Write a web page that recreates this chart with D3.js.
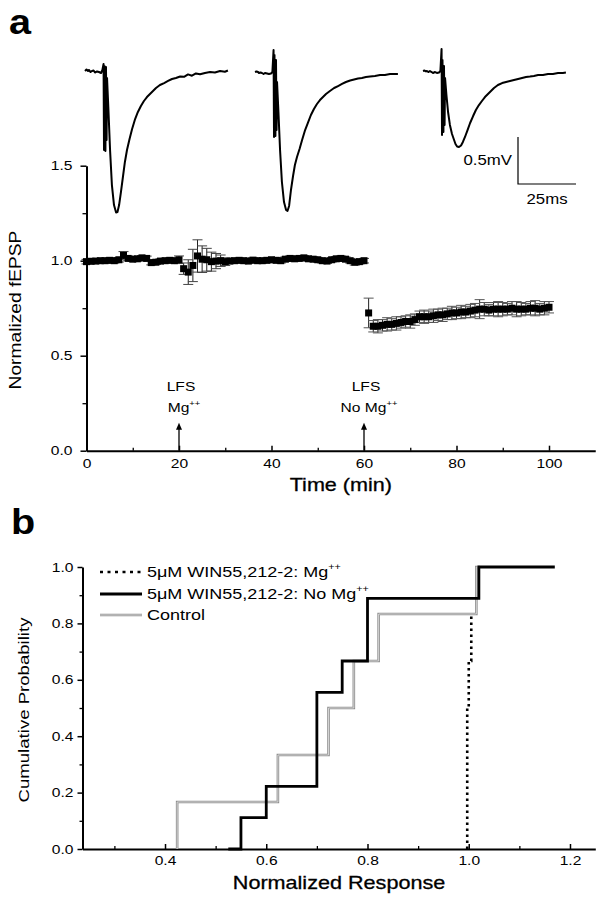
<!DOCTYPE html>
<html><head><meta charset="utf-8">
<script src="https://cdn.jsdelivr.net/npm/d3@7"></script>
<style>
body{margin:0;background:#fff;}
svg text{font-family:"Liberation Sans",Arial,Helvetica,sans-serif;fill:#000;}
</style></head><body>
<svg id="c" width="602" height="900"></svg>
<script>
// ================= DATA =================
// Panel a – example fEPSP traces (time in ms, voltage in mV)
const traceTime = [0,0.65,1.3,1.7,2.4,3.0,3.7,4.3,5.2,6.0,6.9,7.5,
  8.0,8.2,8.4,8.8,9.05,9.3,9.5,
  10.1,10.8,11.6,12.5,13.4,14.0,14.7,15.5,16.4,17.2,18.1,19.2,20.3,21.6,22.8,24.1,25.4,26.7,28.0,29.3,
  30.6,32.3,34.1,35.8,37.5,39.2,41.0,42.7,44.4,46.1,47.8,49.6,51.7,53.9,56.0,58.2,60.3,61.6];
const trace1 = [0,0.016,0,0.011,-0.011,0,0.005,-0.016,-0.005,-0.011,-0.021,0.011,
  0.074,-0.84,0.053,-0.851,0.043,-0.734,-0.074,
  -0.415,-0.84,-1.213,-1.426,-1.505,-1.5,-1.426,-1.287,-1.117,-0.968,-0.84,-0.723,-0.617,-0.511,-0.436,-0.372,-0.319,-0.277,-0.245,-0.213,
  -0.181,-0.149,-0.128,-0.106,-0.085,-0.074,-0.058,-0.062,-0.036,-0.05,-0.026,-0.035,-0.021,-0.011,-0.016,0,-0.008,0.005];
const trace2 = [-0.011,-0.005,-0.011,-0.021,-0.016,-0.021,-0.032,-0.021,-0.027,-0.032,-0.027,-0.011,
  0.223,-0.702,0.17,-0.691,0.117,-0.628,-0.117,
  -0.436,-0.84,-1.181,-1.394,-1.479,-1.489,-1.436,-1.266,-1.117,-1.0,-0.915,-0.83,-0.734,-0.628,-0.553,-0.468,-0.404,-0.351,-0.309,-0.277,
  -0.245,-0.213,-0.181,-0.16,-0.138,-0.117,-0.101,-0.09,-0.08,-0.074,-0.064,-0.059,-0.053,-0.043,-0.043,-0.032,-0.032,-0.032];
const trace3 = [0,0.005,-0.005,0,-0.011,0,-0.011,-0.021,-0.011,-0.021,-0.016,0,
  0.234,-0.681,0.117,-0.649,0.053,-0.574,-0.074,
  -0.255,-0.436,-0.574,-0.67,-0.734,-0.777,-0.803,-0.809,-0.793,-0.755,-0.702,-0.628,-0.553,-0.479,-0.415,-0.362,-0.319,-0.277,-0.245,-0.213,
  -0.181,-0.149,-0.128,-0.117,-0.106,-0.096,-0.085,-0.074,-0.064,-0.059,-0.053,-0.043,-0.043,-0.032,-0.032,-0.021,-0.021,-0.016];

// Panel a – normalized fEPSP time course (min)
const timeMg = [0,1,2,3,4,5,6,7,8,9,10,11,12,13,14,15,16,17,18,19,20,21,22,23,24,25,26,27,28,29,30,
  31,32,33,34,35,36,37,38,39,40,41,42,43,44,45,46,47,48,49,50,51,52,53,54,55,56,57,58,59,60];
const fepspMg = [0.995,0.997,0.998,1.0,1.0,1.002,1.0,1.005,1.028,1.012,1.008,1.01,1.015,1.012,0.99,0.992,0.998,1.0,1.002,1.0,1.005,
  0.958,0.94,0.975,1.025,1.008,1.005,0.995,0.998,1.0,0.995,
  0.998,1.0,1.002,1.0,0.998,1.003,1.0,1.0,1.002,1.005,1.002,1.0,1.008,1.012,1.01,1.012,1.015,1.01,1.008,1.005,
  1.0,0.998,1.005,1.01,1.012,1.008,1.0,0.992,0.995,1.0];
const errMg = [0.012,0.012,0.012,0.012,0.012,0.012,0.012,0.012,0.02,0.012,0.012,0.012,0.012,0.012,0.012,0.012,0.012,0.012,0.012,0.012,0.02,
  0.03,0.065,0.085,0.085,0.07,0.06,0.05,0.04,0.03,0.02,
  0.012,0.012,0.012,0.012,0.012,0.012,0.012,0.012,0.012,0.012,0.012,0.012,0.012,0.012,0.012,0.012,0.012,0.012,0.012,0.012,
  0.012,0.012,0.012,0.012,0.012,0.012,0.012,0.015,0.012,0.012];
const timeNoMg = [61,62,63,64,65,66,67,68,69,70,71,72,73,74,75,76,77,78,79,80,
  81,82,83,84,85,86,87,88,89,90,91,92,93,94,95,96,97,98,99,100];
const fepspNoMg = [0.725,0.655,0.655,0.66,0.665,0.665,0.67,0.675,0.68,0.68,0.69,0.705,0.705,0.705,0.71,0.715,0.715,0.72,0.725,0.725,
  0.73,0.73,0.735,0.74,0.745,0.745,0.74,0.745,0.745,0.745,0.745,0.75,0.745,0.745,0.745,0.75,0.75,0.745,0.75,0.755];
const errNoMg = [0.078,0.03,0.035,0.03,0.035,0.03,0.035,0.03,0.03,0.035,0.03,0.03,0.035,0.03,0.035,0.03,0.035,0.03,0.035,0.03,
  0.035,0.03,0.035,0.035,0.05,0.035,0.03,0.035,0.04,0.035,0.03,0.035,0.04,0.035,0.03,0.035,0.04,0.03,0.035,0.03];
const xTicksA = [0,20,40,60,80,100];
const yTicksA = [0,0.5,1.0,1.5];
const lfsTimes = [20,60];
const lfsLabels = ["Mg", "No Mg"];

// Panel b – cumulative probability of normalized responses
const respMg = [0.997,0.997,0.997,1.0,1.005,1.015];
const respNoMg = [0.55,0.60,0.70,0.70,0.70,0.75,0.80,0.80,1.02];
const respControl = [0.424,0.623,0.723,0.773,0.822,1.015];
const startNoMg = 0.525, endNoMg = 1.17;
const xTicksB = [0.4,0.6,0.8,1.0,1.2];
const yTicksB = [0,0.2,0.4,0.6,0.8,1.0];
const legendNames = ["5\u03bcM WIN55,212-2:  Mg", "5\u03bcM WIN55,212-2: No Mg", "Control"];

// ================= DRAWING =================
const svg = d3.select('#c');
const K = 1.2; // horizontal text stretch of the original figure

function label(x, y, str, o = {}) {
  const size = o.size || 13;
  const g = svg.append('g').attr('transform',
    `translate(${x},${y})` + (o.rot ? ` rotate(${o.rot})` : '') + ` scale(${o.k || K},1)`);
  const t = g.append('text').attr('text-anchor', o.anchor || 'start')
    .attr('font-size', size).attr('font-weight', o.weight || 'normal');
  t.append('tspan').text(str);
  if (o.sup) t.append('tspan').attr('font-size', size * 0.6).attr('dy', -size * 0.45).text(o.sup);
  if (o.stroke) t.attr('stroke', '#000').attr('stroke-width', o.stroke);
  return t;
}
function styleAxis(g, left) {
  g.attr('font-family', null).attr('font-size', null);
  g.select('.domain').attr('stroke-width', 2);
  g.selectAll('.tick line').attr('stroke-width', 1.5);
  g.selectAll('.tick text').attr('font-size', 13).each(function () {
    const s = d3.select(this);
    if (left) s.attr('x', (+s.attr('x')) / K);
    s.attr('transform', `scale(${K},1)`);
  });
}

// ---------- Panel a ----------
label(9, 34, 'a', {size: 36, weight: 'bold', k: 1.1});

const xA = d3.scaleLinear().domain([0, 110]).range([86.5, 595.25]);
const yA = d3.scaleLinear().domain([0, 1.5]).range([450.7, 165.7]);

// traces
const yT = d3.scaleLinear().domain([-1.5, 0]).range([212, 71]);
const traceStarts = [85, 255, 423];
[trace1, trace2, trace3].forEach((tr, i) => {
  const xT = d3.scaleLinear().domain([0, 25]).range([traceStarts[i], traceStarts[i] + 58]);
  svg.append('path')
    .attr('d', d3.line().x((d, j) => xT(traceTime[j])).y(d => yT(d))(tr))
    .attr('fill', 'none').attr('stroke', '#000').attr('stroke-width', 2).attr('stroke-linejoin', 'round');
});
// scale bar 0.5 mV / 25 ms
{
  const xS = d3.scaleLinear().domain([0, 25]).range([518, 576]);
  const y0 = 184;
  const h = yT(-0.5) - yT(0);
  svg.append('path').attr('d', `M${xS(0)},${y0 - h}V${y0}H${xS(25)}`)
    .attr('fill', 'none').attr('stroke', '#000').attr('stroke-width', 1.2);
  label(xS(0) - 6, 165, '0.5mV', {size: 14, anchor: 'end'});
  label(xS(12.5), 204, '25ms', {size: 14, anchor: 'middle'});
}

// axes a
const gyA = svg.append('g').attr('transform', `translate(${xA(0)},0)`)
  .call(d3.axisLeft(yA).tickValues(yTicksA).tickFormat(d3.format('.1f')).tickSizeInner(6).tickSizeOuter(0).tickPadding(8));
styleAxis(gyA, true);
const gyAm = svg.append('g').attr('transform', `translate(${xA(0)},0)`)
  .call(d3.axisLeft(yA).tickValues([0.25, 0.75, 1.25]).tickFormat('').tickSize(4));
gyAm.select('.domain').remove(); gyAm.selectAll('.tick line').attr('stroke-width', 1.3);

const gxA = svg.append('g').attr('transform', `translate(0,${yA(0)})`)
  .call(d3.axisBottom(xA).tickValues(xTicksA).tickSizeInner(-5).tickSizeOuter(0).tickPadding(8));
styleAxis(gxA, false);
const gxAm = svg.append('g').attr('transform', `translate(0,${yA(0)})`)
  .call(d3.axisBottom(xA).tickValues([10, 30, 50, 70, 90]).tickFormat('').tickSize(-3));
gxAm.select('.domain').remove(); gxAm.selectAll('.tick line').attr('stroke-width', 1.3);

label(xA(55), 491, 'Time (min)', {size: 18, anchor: 'middle', stroke: 0.3});
label(21, 310, 'Normalized fEPSP', {size: 16, anchor: 'middle', rot: -90});

// error bars + squares
function drawSeries(times, vals, errs, capColor) {
  const g = svg.append('g');
  const pts = times.map((t, i) => ({t, v: vals[i], e: errs[i]}));
  g.selectAll('line.eb').data(pts).join('line')
    .attr('x1', d => xA(d.t)).attr('x2', d => xA(d.t))
    .attr('y1', d => yA(d.v - d.e)).attr('y2', d => yA(d.v + d.e))
    .attr('stroke', '#222').attr('stroke-width', 1);
  ['+', '-'].forEach(sgn => {
    g.selectAll('line.cap' + (sgn === '+' ? 'u' : 'd')).data(pts).join('line')
      .attr('x1', d => xA(d.t) - 5).attr('x2', d => xA(d.t) + 5)
      .attr('y1', d => yA(sgn === '+' ? d.v + d.e : d.v - d.e))
      .attr('y2', d => yA(sgn === '+' ? d.v + d.e : d.v - d.e))
      .attr('stroke', capColor).attr('stroke-width', 1);
  });
  g.selectAll('rect').data(pts).join('rect')
    .attr('x', d => xA(d.t) - 3.5).attr('y', d => yA(d.v) - 3.5)
    .attr('width', 7).attr('height', 7).attr('fill', '#000');
}
drawSeries(timeMg, fepspMg, errMg, '#444');
drawSeries(timeNoMg, fepspNoMg, errNoMg, '#555');

// LFS arrows
lfsTimes.forEach((t, i) => {
  const x = xA(t);
  const yTop = yA(0.147);
  svg.append('line').attr('x1', x).attr('x2', x).attr('y1', yA(0)).attr('y2', yTop + 5)
    .attr('stroke', '#000').attr('stroke-width', 1.3);
  svg.append('path').attr('d', `M${x},${yTop}L${x - 3},${yTop + 7}L${x + 3},${yTop + 7}Z`).attr('fill', '#000');
  label(x + 2, 391, 'LFS', {size: 13, anchor: 'middle'});
  label(x + 5, 412, lfsLabels[i], {size: 13, anchor: 'middle', sup: '++'});
});

// ---------- Panel b ----------
label(11, 534, 'b', {size: 36, weight: 'bold', k: 1.1});

const xB = d3.scaleLinear().domain([0.237, 1.25]).range([82.5, 595.3]);
const yB = d3.scaleLinear().domain([0, 1]).range([849, 567]);

const gyB = svg.append('g').attr('transform', `translate(${xB.range()[0]},0)`)
  .call(d3.axisLeft(yB).tickValues(yTicksB).tickFormat(d3.format('.1f')).tickSizeInner(5).tickSizeOuter(0).tickPadding(4));
styleAxis(gyB, true);
const gyBm = svg.append('g').attr('transform', `translate(${xB.range()[0]},0)`)
  .call(d3.axisLeft(yB).tickValues([0.1, 0.3, 0.5, 0.7, 0.9]).tickFormat('').tickSize(3));
gyBm.select('.domain').remove(); gyBm.selectAll('.tick line').attr('stroke-width', 1.3);

const gxB = svg.append('g').attr('transform', `translate(0,${yB(0)})`)
  .call(d3.axisBottom(xB).tickValues(xTicksB).tickFormat(d3.format('.1f')).tickSizeInner(-5).tickSizeOuter(0).tickPadding(7));
styleAxis(gxB, false);
const gxBm = svg.append('g').attr('transform', `translate(0,${yB(0)})`)
  .call(d3.axisBottom(xB).tickValues([0.3, 0.5, 0.7, 0.9, 1.1]).tickFormat('').tickSize(-3));
gxBm.select('.domain').remove(); gxBm.selectAll('.tick line').attr('stroke-width', 1.3);

label(339, 889, 'Normalized Response', {size: 18, anchor: 'middle', stroke: 0.3});
label(29, 710, 'Cumulative Probability', {size: 15.5, anchor: 'middle', rot: -90});

// ECDF step points
function ecdf(vals, start, end) {
  const s = vals.slice().sort(d3.ascending);
  const uniq = Array.from(new Set(s));
  const pts = [];
  if (start != null) pts.push([start, 0]);
  uniq.forEach(u => pts.push([u, s.filter(v => v <= u).length / s.length]));
  if (end != null) pts.push([end, 1]);
  return pts;
}
const stepLine = d3.line().x(d => xB(d[0])).y(d => yB(d[1])).curve(d3.curveStepAfter);
function withBase(pts) { return [[pts[0][0], 0]].concat(pts); }

const ctrlPts = withBase(ecdf(respControl, null, 1.022));
svg.append('path').attr('d', stepLine(ctrlPts)).attr('fill', 'none')
  .attr('stroke', '#8f8f8f').attr('stroke-width', 2.6);
svg.append('path').attr('d', stepLine(ctrlPts)).attr('fill', 'none')
  .attr('stroke', '#dcdcdc').attr('stroke-width', 0.9);

const noMgPts = ecdf(respNoMg, startNoMg, endNoMg);
svg.append('path').attr('d', stepLine(noMgPts)).attr('fill', 'none')
  .attr('stroke', '#000').attr('stroke-width', 2.8);

const mgPts = withBase(ecdf(respMg, null, null));
svg.append('path').attr('d', stepLine(mgPts.slice(0, mgPts.length - 1))).attr('fill', 'none')
  .attr('stroke', '#000').attr('stroke-width', 2.6).attr('stroke-dasharray', '2.6,3.4');

// legend
const legY = [572, 594, 615];
const lx0 = 100, lx1 = 142;
svg.append('line').attr('x1', lx0).attr('x2', lx1).attr('y1', legY[0]).attr('y2', legY[0])
  .attr('stroke', '#000').attr('stroke-width', 2.4).attr('stroke-dasharray', '3,4.5');
svg.append('line').attr('x1', lx0).attr('x2', lx1).attr('y1', legY[1]).attr('y2', legY[1])
  .attr('stroke', '#000').attr('stroke-width', 2.8);
svg.append('line').attr('x1', lx0).attr('x2', lx1).attr('y1', legY[2]).attr('y2', legY[2])
  .attr('stroke', '#8f8f8f').attr('stroke-width', 2.6);
svg.append('line').attr('x1', lx0).attr('x2', lx1).attr('y1', legY[2]).attr('y2', legY[2])
  .attr('stroke', '#dcdcdc').attr('stroke-width', 0.9);
label(147, legY[0] + 5, legendNames[0], {size: 15, sup: '++'});
label(147, legY[1] + 5, legendNames[1], {size: 15, sup: '++'});
label(147, legY[2] + 5, legendNames[2], {size: 15});
</script>
</body></html>
